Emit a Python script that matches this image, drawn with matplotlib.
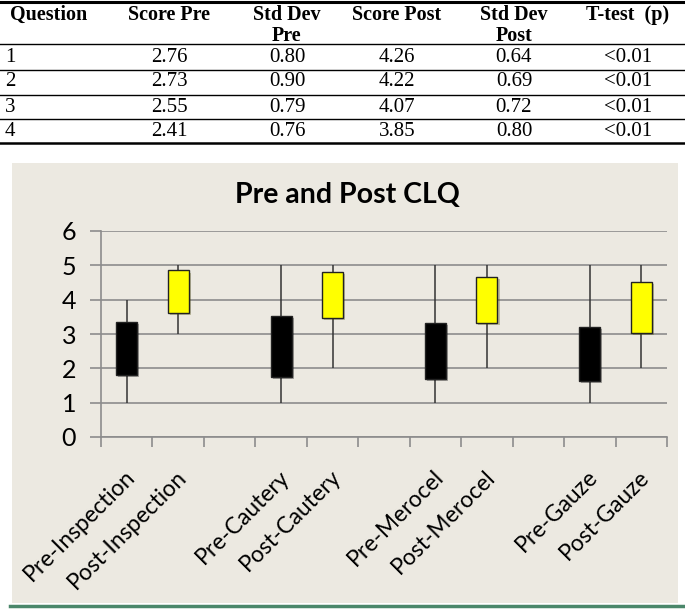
import matplotlib
matplotlib.use("Agg")
import matplotlib.pyplot as plt
import matplotlib.patheffects as pe
from matplotlib.patches import Rectangle
from matplotlib.lines import Line2D

# Table data
questions = ["1", "2", "3", "4"]
score_pre = ["2.76", "2.73", "2.55", "2.41"]
sd_pre = ["0.80", "0.90", "0.79", "0.76"]
score_post = ["4.26", "4.22", "4.07", "3.85"]
sd_post = ["0.64", "0.69", "0.72", "0.80"]
ttest = ["<0.01", "<0.01", "<0.01", "<0.01"]

# Chart data (stock-style: whisker low/high, box bottom/top)
categories = ["Pre-Inspection", "Post-Inspection", "",
              "Pre-Cautery", "Post-Cautery", "",
              "Pre-Merocel", "Post-Merocel", "",
              "Pre-Gauze", "Post-Gauze"]
low = [1, 3, None, 1, 2, None, 1, 2, None, 1, 2]
high = [4, 5, None, 5, 5, None, 5, 5, None, 5, 5]
box_low = [1.82, 3.62, None, 1.76, 3.46, None, 1.70, 3.32, None, 1.64, 3.03]
box_high = [3.34, 4.85, None, 3.53, 4.80, None, 3.33, 4.66, None, 3.20, 4.51]
box_colors = ["black", "#FFFF00", None, "black", "#FFFF00", None,
              "black", "#FFFF00", None, "black", "#FFFF00"]

W, H = 685, 609
fig = plt.figure(figsize=(W / 100, H / 100), dpi=100)


def fx(px):
    return px / W


def fy(py):
    return 1 - py / H


# ---- table ----
serif = "Liberation Serif"
col_x = [49, 169, 287, 397, 514, 628]
headers = [("Question", None), ("Score Pre", None), ("Std Dev", "Pre"),
           ("Score Post", None), ("Std Dev", "Post"), ("T-test  (p)", None)]
for x, (l1, l2) in zip(col_x, headers):
    fig.text(fx(x), fy(15), l1, ha="center", va="center", family=serif,
             fontweight="bold", fontsize=14.5)
    if l2:
        fig.text(fx(x), fy(36), l2, ha="center", va="center", family=serif,
                 fontweight="bold", fontsize=14.5)

row_y = [57, 82, 107, 131]
for i, y in enumerate(row_y):
    fig.text(fx(5), fy(y), questions[i], ha="left", va="center",
             family=serif, fontsize=15)
    vals = [score_pre[i], sd_pre[i], score_post[i], sd_post[i], ttest[i]]
    for x, v in zip(col_x[1:], vals):
        fig.text(fx(x), fy(y), v, ha="center", va="center", family=serif,
                 fontsize=15)

for y, lw in [(2, 2.2), (44, 1.0), (70, 1.0), (95, 1.0), (119, 1.0), (143, 1.8)]:
    fig.add_artist(Line2D([0, 1], [fy(y), fy(y)], color="black", lw=lw,
                          transform=fig.transFigure))

# ---- chart panel ----
fig.add_artist(Rectangle((fx(12), fy(603)), fx(678 - 12), fy(163) - fy(603),
                         transform=fig.transFigure, facecolor="#ECE9E1",
                         edgecolor="none", zorder=0))
fig.add_artist(Line2D([fx(10), 1], [fy(606), fy(606)], color="#4A876A",
                      lw=2.5, transform=fig.transFigure))

sans = "Lato"
ax = fig.add_axes([fx(101), fy(437), fx(667 - 101), fy(231) - fy(437)])
ax.set_facecolor("none")
ax.set_xlim(-0.5, len(categories) - 0.5)
ax.set_ylim(0, 6)

grid_c = "#8C8C8C"
ax.set_yticks(range(0, 7))
ax.yaxis.grid(True, color=grid_c, lw=1.2)
ax.set_axisbelow(True)
for s in ["top", "right"]:
    ax.spines[s].set_visible(False)
for s in ["left", "bottom"]:
    ax.spines[s].set_color(grid_c)
    ax.spines[s].set_linewidth(1.2)

ax.tick_params(axis="y", length=8, color=grid_c, width=1.2, pad=10,
               labelsize=18)
for lab in ax.get_yticklabels():
    lab.set_family(sans)

# category boundary ticks on x
ax.set_xticks([i - 0.5 for i in range(len(categories) + 1)])
ax.set_xticklabels([])
ax.tick_params(axis="x", length=7, color=grid_c, width=1.2)

for i, name in enumerate(categories):
    if not name:
        continue
    ax.vlines(i, low[i], high[i], color="#333333", lw=1.1, zorder=2)
    ax.bar(i, box_high[i] - box_low[i], bottom=box_low[i], width=0.41,
           color=box_colors[i], edgecolor="#222222", lw=1.0, zorder=3,
           path_effects=[pe.SimplePatchShadow(offset=(1.5, -1.5), alpha=0.3),
                         pe.Normal()])
    ax.annotate(name, xy=(i, 0), xycoords=("data", "axes fraction"),
                xytext=(-2, -21), textcoords="offset points", rotation=45,
                rotation_mode="anchor", ha="right", va="top",
                family=sans, fontsize=16.5)

fig.text(fx(347), fy(195), "Pre and Post CLQ", ha="center", va="center",
         family=sans, fontweight="bold", fontsize=20.5)

fig.savefig("out.png", dpi=100)
